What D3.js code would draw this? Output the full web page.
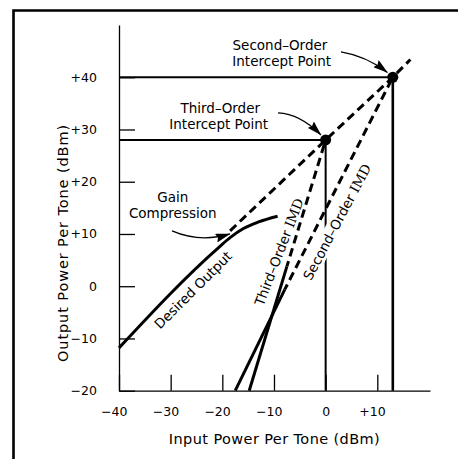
<!DOCTYPE html>
<html>
<head>
<meta charset="utf-8">
<script src="https://cdn.jsdelivr.net/npm/d3@7"></script>
<style>
  html, body { margin: 0; padding: 0; background: #fff; }
  svg { display: block; }
  text { font-family: "DejaVu Sans", sans-serif; fill: #000; }
</style>
</head>
<body>
<svg id="chart" width="458" height="459"></svg>
<script>
// ---------- data (dBm) ----------
const xTicks = [-40, -30, -20, -10, 0, 10];
const yTicks = [-20, -10, 0, 10, 20, 30, 40];

// Desired output (fundamental), with gain compression near the top
const desiredOutput = [[-40, -11.8], [-20.5, 7.6], [-18.5, 9.3], [-16, 11.0], [-13, 12.3], [-9.3, 13.4]];
// Linear extrapolation of the desired output (dashed)
const desiredExtrap = [[-18.5, 10.6], [0, 28], [13, 40], [16.4, 43.4]];

// Third-order IMD: measured (solid) and extrapolated (dashed)
const thirdSolid = [[-14.8, -20], [-7.5, 3.8]];
const thirdDashed = [[-7.5, 3.8], [0, 28]];

// Second-order IMD: measured (solid) and extrapolated (dashed)
const secondSolid = [[-17.5, -20], [-7.9, -0.6]];
const secondDashed = [[-7.9, -0.6], [13, 40]];

// Intercept points
const thirdIntercept = [0, 28];
const secondIntercept = [13, 40];

// Annotation arrows (start, control, tip) in data units
const arrowSecond = [[2.96, 44.85], [7.8, 44.08], [11.96, 40.92]];
const arrowThird = [[-9.23, 33.17], [-4.97, 32.98], [-0.91, 28.96]];
const arrowGain = [[-29.74, 10.58], [-24.32, 8.28], [-18.52, 10.0]];

// Annotation text anchors in data units
const labelSecond = { lines: ["Second\u2013Order", "Intercept Point"], at: [[-8.85, 45.23], [-8.5, 42.07]] };
const labelThird = { lines: ["Third\u2013Order", "Intercept Point"], at: [[-20.4, 33.17], [-20.7, 30.0]] };
const labelGain = { lines: ["Gain", "Compression"], at: [[-29.6, 16.03], [-29.6, 13.07]] };

// ---------- layout ----------
const svg = d3.select("#chart");
const x = d3.scaleLinear().domain([-40, 20.2]).range([119, 430]);
const y = d3.scaleLinear().domain([-20, 50]).range([390.7, 25]);
const line = d3.line().x(d => x(d[0])).y(d => y(d[1]));
const curved = d3.line().x(d => x(d[0])).y(d => y(d[1])).curve(d3.curveMonotoneX);

// Frame (only top/left visible in the original crop)
svg.append("path")
  .attr("d", "M13.5,470 L13.5,10.5 L470,10.5")
  .attr("fill", "none").attr("stroke", "#000").attr("stroke-width", 2.6);

// Arrowhead marker
const defs = svg.append("defs");
defs.append("marker")
  .attr("id", "ah").attr("viewBox", "0 0 15 9")
  .attr("refX", 14.5).attr("refY", 4.5)
  .attr("markerWidth", 15).attr("markerHeight", 9)
  .attr("markerUnits", "userSpaceOnUse")
  .attr("orient", "auto")
  .append("path").attr("d", "M0,0 L15,4.5 L0,9 L2,4.5 Z").attr("fill", "#000");

const fmt = d => d > 0 ? "+" + d : d < 0 ? "\u2212" + Math.abs(d) : "0";

// Y axis
const gy = svg.append("g").attr("transform", `translate(${x(-40)},0)`)
  .call(d3.axisLeft(y).tickValues(yTicks).tickSize(-16).tickSizeOuter(0).tickPadding(22).tickFormat(fmt));
gy.selectAll("text").style("font-family", "DejaVu Sans, sans-serif").style("font-size", "12.5px");
gy.selectAll("line,path").attr("stroke", "#000").attr("stroke-width", 1.3);

// X axis
const gx = svg.append("g").attr("transform", `translate(0,${y(-20)})`)
  .call(d3.axisBottom(x).tickValues(xTicks).tickSize(-16).tickSizeOuter(0).tickPadding(16).tickFormat(fmt));
gx.selectAll("text").style("font-family", "DejaVu Sans, sans-serif").style("font-size", "12.5px")
  .attr("dx", d => d === 0 ? 0 : "-0.42em");
gx.selectAll("line,path").attr("stroke", "#000").attr("stroke-width", 1.3);

// Axis titles
svg.append("text").attr("x", (x.range()[0] + x.range()[1]) / 2).attr("y", 444)
  .attr("text-anchor", "middle").style("font-size", "14.5px").style("letter-spacing", "0.4px")
  .text("Input Power Per Tone (dBm)");
svg.append("text").attr("transform", "translate(68,243) rotate(-90)")
  .attr("text-anchor", "middle").style("font-size", "14.5px").style("letter-spacing", "0.9px")
  .text("Output Power Per Tone (dBm)");

// Leader lines to intercept points
const lead = svg.append("g").attr("stroke", "#000").attr("fill", "none");
lead.append("path").attr("d", line([[-40, thirdIntercept[1]], thirdIntercept])).attr("stroke-width", 2);
lead.append("path").attr("d", line([[-40, secondIntercept[1]], secondIntercept])).attr("stroke-width", 2);
lead.append("path").attr("d", line([thirdIntercept, [thirdIntercept[0], -20]])).attr("stroke-width", 2);
lead.append("path").attr("d", line([secondIntercept, [secondIntercept[0], -20]])).attr("stroke-width", 2.6);

// Dashed extrapolations
const dash = svg.append("g").attr("stroke", "#000").attr("fill", "none")
  .attr("stroke-width", 3).attr("stroke-dasharray", "8.5,5");
dash.append("path").attr("d", line(desiredExtrap));
dash.append("path").attr("d", line(thirdDashed)).attr("stroke-dashoffset", 3);
dash.append("path").attr("d", line(secondDashed)).attr("stroke-dashoffset", 3);

// Solid measured curves
const solid = svg.append("g").attr("stroke", "#000").attr("fill", "none").attr("stroke-width", 3);
solid.append("path").attr("d", curved(desiredOutput));
solid.append("path").attr("d", line(thirdSolid));
solid.append("path").attr("d", line(secondSolid));

// Rotated curve labels
function rotLabel(parts, cx, cy, angle, bg) {
  const g = svg.append("g").attr("transform", `translate(${cx},${cy}) rotate(${angle})`);
  const t = g.append("text").attr("text-anchor", "middle").attr("dy", "0.36em").style("font-size", "13.5px");
  parts.forEach(p => t.append("tspan").style("font-family", p.serif ? "DejaVu Serif, serif" : "DejaVu Sans, sans-serif").text(p.s));
  if (bg) {
    const b = t.node().getBBox();
    g.insert("rect", "text").attr("x", b.x - 1).attr("y", b.y).attr("width", b.width + 2).attr("height", b.height).attr("fill", "#fff");
  }
}
rotLabel([{ s: "Desired Output" }], 193, 290, -45, false);
rotLabel([{ s: "Third\u2013Order " }, { s: "IMD", serif: true }], 279, 252, -69, false);
rotLabel([{ s: "Second\u2013Order " }, { s: "IMD", serif: true }], 337, 222, -62, true);

// Intercept dots
svg.selectAll("circle.ip").data([thirdIntercept, secondIntercept]).enter().append("circle")
  .attr("class", "ip").attr("cx", d => x(d[0])).attr("cy", d => y(d[1])).attr("r", 5.5).attr("fill", "#000");

// Annotation arrows
const q = a => `M${x(a[0][0])},${y(a[0][1])} Q${x(a[1][0])},${y(a[1][1])} ${x(a[2][0])},${y(a[2][1])}`;
[arrowSecond, arrowThird, arrowGain].forEach(a => {
  svg.append("path").attr("d", q(a)).attr("fill", "none").attr("stroke", "#000")
    .attr("stroke-width", 1.3).attr("marker-end", "url(#ah)");
});

// Annotation texts
[labelSecond, labelThird, labelGain].forEach(L => {
  L.lines.forEach((s, i) => {
    svg.append("text").attr("x", x(L.at[i][0])).attr("y", y(L.at[i][1]))
      .attr("text-anchor", "middle").style("font-size", "13.5px").text(s);
  });
});
</script>
</body>
</html>
